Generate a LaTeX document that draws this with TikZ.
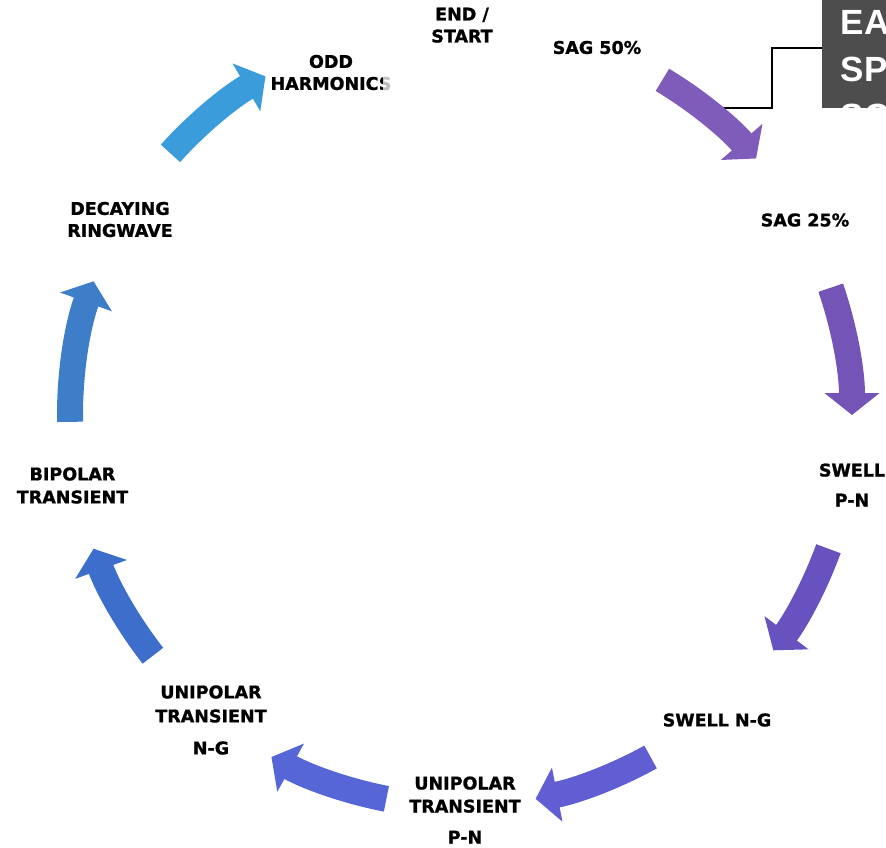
\documentclass[tikz,border=0pt]{standalone}
\usepackage{fontspec}
\setmainfont{DejaVu Sans}
\newfontfamily\lblfont{DejaVu Sans Bold}[FakeBold=1.2]
\newfontfamily\notefont{Liberation Sans}
\usetikzlibrary{arrows.meta,calc}
\definecolor{SagViolet}{RGB}{128,92,186}
\definecolor{SagPurple}{RGB}{116,84,182}
\definecolor{SwellIndigo}{RGB}{104,82,192}
\definecolor{SwellBlue}{RGB}{96,94,210}
\definecolor{UniBlue}{RGB}{86,102,214}
\definecolor{UniCobalt}{RGB}{62,110,204}
\definecolor{BipolarBlue}{RGB}{62,126,200}
\definecolor{RingSky}{RGB}{58,156,218}
\definecolor{NoteGray}{RGB}{77,77,77}

\begin{document}
\begin{tikzpicture}[x=1pt,y=-1pt,
    lbl/.style={font=\lblfont\fontsize{17.5}{22}\selectfont,align=center,inner sep=0pt},
    arw/.style={line width=26pt,-{Triangle[length=22pt,width=54pt]}}]
  \useasboundingbox (0,0) rectangle (886,847);
  \coordinate (hub) at (461,415);
  % labels round the cycle
  \node[lbl] (odd) at (331,72.5) {ODD\\HARMONICS};
  \node[lbl,anchor=north,fill=white,fill opacity=0.75,text opacity=1,minimum width=158pt,text depth=62pt] (endstart) at (462,7.5) {END /\\START};
  \node[lbl] (sag50) at (597,47.5) {SAG 50\%};
  \node[lbl] (sag25) at (805,220) {SAG 25\%};
  \node[lbl] (swellpn) at (852,485) {SWELL\\[8pt]P-N};
  \node[lbl] (swellng) at (717,720) {SWELL N-G};
  \node[lbl] (unipn) at (465,810) {UNIPOLAR\\[1pt]TRANSIENT\\[9pt]P-N};
  \node[lbl] (uning) at (211,720) {UNIPOLAR\\[2pt]TRANSIENT\\[10pt]N-G};
  \node[lbl] (bipolar) at (72.5,485.5) {BIPOLAR\\[1pt]TRANSIENT};
  \node[lbl] (decay) at (120,219.5) {DECAYING\\RINGWAVE};
  % side note, cut at the page edge
  \begin{scope}
    \clip (822,0) rectangle (886,108);
    \fill[NoteGray] (822,0) rectangle (886,108);
    \node[anchor=north west,inner sep=0pt,align=left,text=white,font=\notefont\bfseries\fontsize{35}{47}\selectfont] (note) at (840.5,10) {EA\\SP\\SC};
  \end{scope}
  \coordinate (callout) at (722,108);
  \coordinate (notein) at (822,48);
  \draw[line width=2.5pt] (callout) -- ++(50,0) |- (notein);
  % arrows
  \coordinate (a1) at ($(hub)+(-59:391)$);
  \coordinate (a2) at ($(hub)+(-19:391)$);
  \coordinate (a3) at ($(hub)+(20:391)$);
  \coordinate (a4) at ($(hub)+(61:391)$);
  \coordinate (a5) at ($(hub)+(101:391)$);
  \coordinate (a6) at ($(hub)+(142:391)$);
  \coordinate (a7) at ($(hub)+(179:391)$);
  \coordinate (a8) at ($(hub)+(222:391)$);
  \draw[arw,SagViolet] (a1) arc[start angle=-59,end angle=-41,radius=391];
  \draw[arw,SagPurple] (a2) arc[start angle=-19,end angle=0,radius=391];
  \draw[arw,SwellIndigo] (a3) arc[start angle=20,end angle=37,radius=391];
  \draw[arw,SwellBlue] (a4) arc[start angle=61,end angle=79,radius=391];
  \draw[arw,UniBlue] (a5) arc[start angle=101,end angle=119,radius=391];
  \draw[arw,UniCobalt] (a6) arc[start angle=142,end angle=160,radius=391];
  \draw[arw,BipolarBlue] (a7) arc[start angle=179,end angle=200,radius=391];
  \draw[arw,RingSky] (a8) arc[start angle=222,end angle=240,radius=391];
\end{tikzpicture}
\end{document}
